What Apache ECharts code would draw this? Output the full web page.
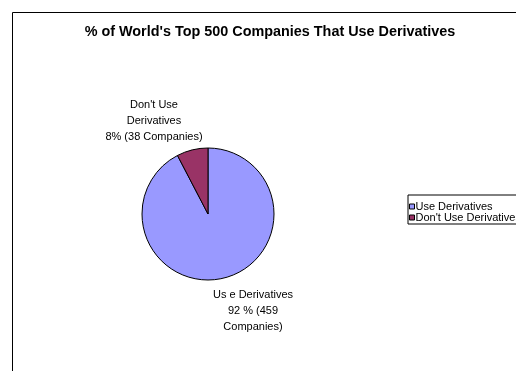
<!DOCTYPE html>
<html>
<head>
<meta charset="utf-8">
<script src="https://cdn.jsdelivr.net/npm/echarts@6/dist/echarts.min.js"></script>
<style>
  html, body { margin: 0; padding: 0; background: #fff; }
  #main { width: 516px; height: 371px; }
</style>
</head>
<body>
<div id="main"></div>
<script>
// data
const categories = ['Use Derivatives', "Don't Use Derivatives"];
const companies = [459, 38];
const labelTexts = [
  'Us e Derivatives\n92 % (459\nCompanies)',
  "Don't Use\nDerivatives\n8% (38 Companies)"
];
const colors = ['#9999FF', '#993366'];

// where each data label block sits (centre), as in the original
const labelSpots = [[253, 311], [154, 121]];

const chart = echarts.init(document.getElementById('main'));

const option = {
  animation: false,
  title: {
    text: "% of World's Top 500 Companies That Use Derivatives",
    left: 265,
    textAlign: 'center',
    top: 20,
    textStyle: { fontFamily: 'Liberation Sans', fontSize: 14.4, fontWeight: 'bold', color: '#000' }
  },
  graphic: [
    // chart area border (runs off the right/bottom edges)
    { type: 'rect', left: 10, top: 10, shape: { width: 600, height: 500 },
      style: { fill: 'none', stroke: '#000', lineWidth: 1 }, silent: true }
  ],
  legend: {
    orient: 'vertical',
    left: 408,
    top: 195,
    padding: [6, 4, 1, 1],
    itemGap: 0,
    itemWidth: 5,
    itemHeight: 5,
    borderColor: '#000',
    borderWidth: 1,
    icon: 'rect',
    itemStyle: { borderColor: '#000', borderWidth: 1 },
    textStyle: { fontFamily: 'Liberation Sans', fontSize: 11, lineHeight: 11, color: '#000', padding: [0, 0, 0, -4] },
    data: categories
  },
  series: [{
    type: 'pie',
    center: [208, 214],
    radius: 66,
    startAngle: 90,
    clockwise: true,
    color: colors,
    itemStyle: { borderColor: '#000', borderWidth: 1 },
    label: {
      show: true,
      position: 'outside',
      fontFamily: 'Liberation Sans',
      fontSize: 11,
      lineHeight: 16,
      color: '#000',
      align: 'center',
      formatter: p => labelTexts[p.dataIndex]
    },
    labelLine: { show: false },
    labelLayout: p => ({
      x: labelSpots[p.dataIndex][0],
      y: labelSpots[p.dataIndex][1],
      align: 'center',
      verticalAlign: 'middle'
    }),
    emphasis: { disabled: true },
    data: categories.map((c, i) => ({ name: c, value: companies[i] }))
  }]
};

chart.setOption(option);
</script>
</body>
</html>
